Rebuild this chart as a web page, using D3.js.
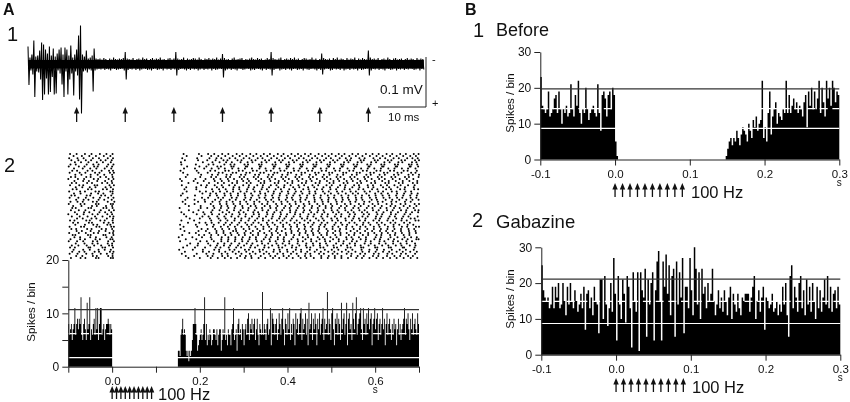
<!DOCTYPE html>
<html>
<head>
<meta charset="utf-8">
<script src="https://d3js.org/d3.v7.min.js"></script>
<style>
  html, body { margin: 0; padding: 0; background: #fff; }
  svg { display: block; filter: blur(0.35px); }
  text { font-family: "Liberation Sans", Arial, sans-serif; fill: #111; }
  .axis path, .axis line { stroke: #222; stroke-width: 1; }
  .axis text { font-size: 11.5px; fill: #111; font-family: "Liberation Sans", Arial, sans-serif; }
</style>
</head>
<body>
<svg width="850" height="402"></svg>
<script>
// extracellular trace, panel A1: envelope sampled every 0.4 ms, in microvolts
const traceTop = [36,14,20,48,16,18,28,44,40,30,22,36,18,32,16,22,30,34,20,34,30,18,38,14,20,30,58,78,20,16,28,12,14,18,32,12,
  11,12,10,13,11,9,12,10,14,11,10,12,11,13,25,12,11,10,13,9,11,12,10,14,11,12,9,11,13,10,12,11,14,10,11,9,12,13,10,12,25,12,
  10,11,14,9,12,10,11,13,12,10,14,11,9,12,11,13,10,12,11,14,10,12,21,13,10,11,9,12,14,10,11,12,13,9,11,10,12,14,11,10,13,11,
  12,9,10,13,11,25,13,11,10,12,14,9,11,12,10,13,11,14,10,12,9,11,13,12,10,11,14,10,12,9,11,22,13,11,10,12,9,13,11,14,10,12,
  11,9,13,10,12,11,14,9,12,10,13,11,10,28,14,11,12,10,13,9,11,12,10,14,11,9,12,13,10,11,12,9,11,13,10,12,11,9,13,10,12,11]
const traceBot = [-41,-12,-20,-65,-14,-16,-30,-71,-60,-28,-60,-55,-25,-60,-58,-12,-18,-40,-65,-14,-60,-30,-18,-62,-14,-22,-70,-98,-14,-12,-16,-10,-12,-54,-12,-10,
  -9,-10,-8,-11,-9,-10,-12,-8,-9,-11,-10,-9,-8,-12,-30,-11,-9,-10,-8,-11,-9,-12,-10,-8,-9,-11,-10,-12,-9,-8,-11,-10,-9,-12,-8,-10,-9,-11,-8,-10,-22,-11,
  -9,-8,-10,-12,-9,-11,-8,-10,-9,-12,-10,-8,-11,-9,-10,-8,-12,-9,-11,-10,-8,-9,-26,-12,-10,-8,-11,-9,-10,-12,-8,-9,-11,-10,-8,-9,-12,-10,-11,-8,-9,-10,
  -12,-8,-11,-9,-10,-22,-11,-9,-8,-12,-10,-9,-11,-8,-10,-12,-9,-8,-11,-10,-9,-12,-8,-10,-11,-9,-8,-10,-12,-9,-11,-20,-10,-8,-9,-12,-11,-8,-10,-9,-11,-8,
  -12,-10,-9,-11,-8,-10,-9,-12,-8,-11,-10,-9,-8,-22,-12,-9,-10,-8,-11,-9,-10,-12,-8,-9,-11,-10,-8,-12,-9,-10,-8,-11,-9,-10,-8,-9,-11,-10,-8,-12,-9,-10]
const traceBand = [-8, 9]
const traceStims = [10,20,30,40,50,60,70]

// raster, panel A2: one list of spike times (ms) per trial
const rasterTrials = [
  [-96,-81,-62,-47,-28,-13,1,163,198,219,233,251,265,284,297,315,329,346,360,378,391,409,424,440,453,471,486,501,517,530,548,561,579,594,608,626,639,657,670,688,699],
  [-88,-69,-52,-37,-19,-4,170,204,226,242,258,275,291,306,322,339,354,369,386,401,417,431,448,463,479,494,510,524,541,556,571,588,603,617,634,649,664,680,693],
  [-98,-79,-65,-44,-30,-10,2,160,194,222,238,249,268,281,300,313,332,343,363,376,394,406,426,437,456,468,488,499,519,533,545,564,576,596,611,623,642,654,673,685,697],
  [-93,-77,-60,-48,-26,-15,-1,166,196,217,236,254,263,286,295,318,327,349,358,381,389,412,421,443,451,474,483,504,514,536,543,567,574,599,606,629,637,660,668,691,700],
  [-85,-71,-54,-35,-21,-3,157,207,229,245,260,273,293,309,320,341,352,372,385,403,415,435,446,466,477,497,508,529,539,560,569,591,602,621,633,653,662,684,694],
  [-95,-83,-58,-43,-31,-9,3,158,191,220,231,256,270,279,302,310,335,341,366,373,397,404,429,435,459,466,491,497,522,528,551,559,582,590,614,621,645,652,677,683,696],
  [-99,-76,-63,-41,-33,-12,0,171,199,215,240,248,272,277,305,308,337,339,369,371,399,402,431,433,461,464,493,495,524,526,554,557,585,587,616,619,647,650,679,681,698],
  [-87,-67,-50,-36,-17,-2,164,189,210,227,243,257,274,288,303,319,336,350,368,382,398,414,428,444,458,476,489,506,520,537,552,568,583,598,613,630,644,661,675,692],
  [-91,-80,-56,-45,-24,-7,2,156,193,224,235,258,266,289,298,321,330,352,362,384,393,415,425,447,456,478,488,509,519,541,550,572,581,603,612,634,643,665,674,695],
  [-97,-74,-61,-39,-29,-5,4,162,197,218,243,252,275,283,306,314,338,346,370,377,401,408,432,440,463,471,495,502,527,534,558,565,589,597,620,628,651,660,682,692],
  [-84,-70,-49,-33,-18,0,172,203,228,241,261,271,294,304,326,335,357,367,388,400,420,432,451,465,483,496,514,527,547,558,580,590,610,622,643,653,676,686,700],
  [-94,-84,-59,-49,-27,-14,1,168,201,226,237,260,269,291,301,323,333,355,364,386,396,418,427,449,458,480,490,512,521,543,553,575,584,606,615,637,646,668,677,699],
  [-100,-78,-64,-42,-32,-8,3,155,190,213,232,247,264,278,296,309,328,340,359,372,390,403,422,434,452,467,484,498,515,529,546,560,577,592,609,622,640,656,672,687],
  [-86,-66,-53,-34,-16,-1,159,186,209,234,250,266,285,299,312,334,347,361,380,394,411,425,443,455,474,490,505,518,535,549,566,581,599,616,631,647,663,678,696],
  [-92,-82,-57,-46,-23,-11,0,174,195,221,241,255,274,285,307,316,339,347,371,379,400,411,433,442,464,473,496,505,528,537,559,568,591,600,623,631,654,663,686,696],
  [-96,-75,-66,-40,-34,-6,4,159,203,216,234,250,267,280,299,312,331,344,362,375,393,407,425,438,457,470,489,501,520,532,552,563,583,595,613,627,644,658,675,690],
  [-83,-68,-51,-38,-15,-3,169,192,214,239,253,277,290,311,324,343,358,379,392,413,427,447,461,482,497,515,531,548,564,584,596,618,632,651,668,688],
  [-90,-81,-55,-47,-21,-12,2,165,192,228,244,259,276,290,308,322,341,353,373,385,404,417,436,448,467,479,498,511,530,542,562,573,593,605,625,636,657,667,689,698],
  [-98,-73,-62,-38,-30,-4,1,170,200,214,230,246,262,276,293,307,325,337,356,369,387,401,419,431,450,463,481,494,513,525,544,556,576,588,607,618,638,649,669,682],
  [-87,-72,-48,-32,-20,1,161,206,224,237,256,270,287,302,317,338,349,368,383,402,416,434,450,464,485,499,516,533,549,561,580,600,614,629,650,666,683,697],
  [-93,-85,-58,-50,-25,-16,-2,157,189,223,239,257,271,287,303,320,334,350,365,382,398,413,428,445,460,476,492,507,523,539,555,570,586,601,617,632,648,664,680,695],
  [-97,-77,-60,-43,-28,-9,3,172,205,219,242,253,273,284,304,317,336,348,367,380,399,410,430,444,461,475,494,506,525,538,556,569,588,602,619,633,650,662,681,694],
  [-82,-65,-54,-31,-18,-1,167,188,211,235,248,268,282,301,315,330,351,363,381,396,412,429,441,462,478,493,510,526,540,557,571,592,604,624,639,655,671,685,699],
  [-95,-79,-67,-44,-35,-10,5,161,196,212,229,245,261,275,292,306,324,336,355,368,386,400,418,430,449,462,480,493,512,524,543,555,575,587,606,617,637,648,668,681],
  [-99,-72,-63,-37,-31,-3,2,167,188,225,246,261,277,292,309,324,342,354,374,387,405,419,437,450,468,481,499,513,531,544,563,574,594,607,626,638,658,669,690,700],
  [-89,-70,-46,-35,-14,0,175,202,231,249,263,281,297,316,327,348,360,377,395,408,426,439,456,473,487,502,522,535,553,567,585,599,615,635,646,665,679,694],
  [-91,-83,-54,-48,-20,-13,1,154,202,217,233,248,265,279,298,311,329,342,361,374,392,405,423,436,455,469,487,500,518,531,550,562,581,594,612,626,643,656,674,688],
  [-94,-76,-61,-41,-26,-7,4,175,197,229,245,262,278,293,310,325,343,356,375,388,406,420,438,451,470,482,501,514,532,546,564,576,595,608,627,640,659,671,691,699],
  [-85,-64,-52,-29,-16,-2,158,185,208,226,252,267,289,300,322,333,353,370,384,406,418,436,454,468,484,504,517,538,551,570,582,603,619,636,652,670,684,698],
  [-100,-80,-65,-45,-33,-11,0,164,193,211,228,244,260,274,291,305,323,335,354,367,385,399,417,429,448,461,479,492,511,523,542,554,574,586,605,616,636,647,667,680],
  [-92,-74,-56,-39,-22,-5,3,169,206,220,240,256,272,288,304,319,335,351,366,383,397,414,429,446,459,477,491,508,522,540,552,571,583,602,614,633,645,664,676,697],
  [-80,-67,-47,-36,-12,2,177,200,223,243,259,280,295,313,331,344,364,381,393,410,433,445,465,480,500,513,532,550,563,578,601,611,630,648,661,681,690],
  [-96,-86,-59,-51,-27,-17,1,158,187,226,247,263,279,294,311,326,344,357,376,389,407,421,439,452,471,483,502,515,533,547,565,577,596,609,628,641,660,672,692,699],
  [-89,-78,-53,-46,-19,-8,2,173,199,213,227,243,259,273,290,304,322,334,353,366,384,398,416,428,447,460,478,491,510,522,541,553,573,585,604,615,635,646,666,679],
  [-84,-62,-43,-34,-11,-4,155,191,216,232,255,269,286,308,318,340,355,371,390,405,422,438,457,475,486,507,525,536,558,572,589,608,622,642,655,674,687],
  [-97,-71,-64,-36,-29,-2,4,163,194,230,248,264,280,295,312,327,345,358,377,390,408,422,440,453,472,484,503,516,534,548,566,578,597,610,629,642,661,673,693,700],
  [-93,-82,-57,-47,-24,-14,0,156,204,218,235,251,267,282,300,313,331,345,363,376,395,407,426,439,457,472,489,503,520,534,551,565,582,597,613,628,644,659,676,689],
  [-81,-69,-49,-30,-15,3,165,197,214,238,254,276,283,305,321,337,359,374,387,409,424,442,455,470,492,509,519,544,559,577,593,611,625,640,659,677,692],
  [-98,-76,-60,-42,-32,-6,2,176,191,222,238,254,270,286,302,316,333,347,364,378,396,409,428,441,458,473,490,504,521,535,553,566,584,598,615,629,646,661,678,693],
  [-90,-84,-55,-49,-20,-15,3,160,198,210,226,242,258,272,289,303,321,333,352,365,383,397,415,427,446,459,477,490,509,521,540,552,572,584,603,614,634,645,665,678],
  [-86,-73,-50,-37,-13,-1,152,183,205,225,250,265,281,298,314,328,350,362,378,392,413,435,447,469,481,498,512,534,546,563,579,601,613,635,651,667,682,695],
  [-95,-73,-62,-38,-28,-4,1,168,192,227,249,265,281,296,313,328,346,359,378,391,409,423,441,454,473,485,504,517,535,549,567,579,598,611,630,643,662,674,694,699],
  [-99,-80,-66,-44,-34,-9,4,155,201,216,232,249,264,280,297,310,330,341,360,373,392,404,424,435,454,466,486,497,517,528,547,558,578,590,610,621,641,652,671,684],
  [-83,-63,-45,-33,-10,0,178,196,219,241,256,272,290,307,320,342,356,375,389,404,423,443,458,474,488,511,527,542,554,576,590,609,624,641,658,672,691],
  [-92,-77,-58,-41,-25,-7,0,171,195,224,239,255,269,287,301,317,332,348,365,379,395,411,427,442,459,474,491,505,522,536,554,567,585,599,616,630,647,660,679,692],
  [-96,-85,-54,-50,-22,-16,2,162,189,212,236,247,266,283,294,315,326,347,357,380,388,410,420,444,452,475,482,506,513,537,544,568,573,600,605,631,636,663,666,690],
  [-88,-66,-51,-31,-17,-3,153,184,207,233,244,268,279,303,312,336,344,369,382,399,419,431,451,467,485,501,516,533,548,569,587,604,620,638,656,670,688],
  [-91,-75,-63,-40,-30,-5,3,166,207,221,244,258,275,289,306,321,337,352,368,383,400,413,431,445,462,476,493,507,524,539,555,571,586,601,618,632,649,663,680,695],
  [-97,-79,-59,-45,-26,-12,1,159,193,215,231,250,263,282,295,314,327,346,358,377,390,408,421,441,452,472,483,503,514,535,546,566,577,597,608,628,639,659,670,691],
  [-82,-68,-44,-35,-9,1,168,187,218,229,251,264,292,305,317,339,361,372,391,403,425,440,453,477,494,508,523,545,560,574,595,607,627,644,657,675,686],
  [-94,-72,-61,-37,-31,-3,2,174,200,225,241,257,271,285,303,318,334,349,367,381,398,412,430,443,460,477,492,508,523,538,557,570,587,603,618,634,649,665,681,696]
]

// histogram A2, 2 ms bins
const histAPre = [8,6,7,8,5,7,8,11,6,8,9,7,9,8,13,6,5,8,9,7,5,12,7,8,13,5,7,6,8,9,6,11,7,11,5,8,11,11,6,7,8,5,7,8,8,9,8,6,8,7]
const histAPost = [3,3,2,6,7,9,6,7,6,3, 2,3,1,3,2,3,5,8,8,11, 8,6,3,4,5,6,7,5,6,8, 13,5,8,4,6,5,7,6,4,5,
  7,7,6,5,7,4,6,7,7,3, 5,7,6,13,5,6,4,7,6,6, 4,7,8,11,5,6,7,3,8,9, 6,7,5,8,7,4,7,8,6,9,
  10,5,8,7,9,6,8,9,5,7, 9,6,4,8,7,6,14,6,8,7, 5,8,9,6,7,11,4,10,9,8, 6,8,9,5,7,10,8,6,9,11,
  7,4,9,8,6,10,7,11,5,8, 6,9,8,4,10,7,9,6,8,10, 11,5,9,7,8,10,6,9,4,12, 7,8,10,5,9,7,10,8,4,9,
  7,10,6,8,9,11,5,9,7,8, 14,6,9,8,5,10,11,7,4,9, 8,10,6,9,8,5,12,7,9,10, 6,8,12,4,9,10,7,8,5,12,
  9,7,10,13,6,8,9,10,11,7, 5,11,8,9,6,10,8,11,7,9, 10,4,8,9,11,7,9,10,5,8, 9,6,8,11,7,9,4,8,10,6,
  8,9,7,5,8,6,9,7,8,4, 7,9,6,8,5,7,8,9,11,6, 9,8,10,7,5,9,7,10,6,8, 9,7,6,10,8]

// histogram B1 "Before", 2 ms bins
const histBeforePre = [23,15,14,13,14,19,12,13,14,17,18,13,19,14,10,14,13,15,12,13,21,14,12,18,15,22,13,10,14,13,20,14,11,13,14,15,13,12,21,13,8,18,19,17,12,18,19,14,20,18,5,1]
const histBeforePost = [1,3,5,6,4,6,5,8,6,4, 7,9,8,7,5,10,8,6,11,9, 12,8,10,11,22,6,9,5,13,19, 7,12,14,16,10,13,12,11,14,13,
  22,13,18,13,15,17,14,16,13,15, 14,12,16,18,9,19,15,20,14,19, 14,17,22,13,20,16,12,22,17,20, 15,22,20,16,19,18]

// histogram B2 "Gabazine", 2 ms bins
const histGabazine = [25,18,16,15,16,13,14,19,13,19, 16,20,13,14,20,15,11,19,14,20, 15,13,18,15,12,14,17,13,19,7, 17,18,13,16,11,19,15,14,6,21,
  21,10,22,14,8,13,20,12,27,17, 4,22,14,10,21,17,9,22,19,13, 2,23,15,12,23,1,23,18,16,24, 5,21,14,20,23,4,18,26,29,15,
  4,26,19,28,17,25,11,22,24,5, 26,14,23,16,27,6,19,19,13,27, 18,11,30,24,14,23,10,24,17,19, 13,20,15,17,24,15,11,14,18,13,
  16,12,18,15,11,16,19,10,17,14, 12,17,13,11,16,15,17,17,17,12, 16,19,22,10,15,18,12,16,19,7, 16,15,13,14,17,12,13,15,11,14,
  12,19,14,20,11,5,22,25,13,19, 16,12,20,22,13,18,11,21,14,19, 12,20,15,10,19,13,18,12,16,21, 14,22,13,19,12,17,18,13,19,14]

const stimTimes = [0,0.01,0.02,0.03,0.04,0.05,0.06,0.07,0.08,0.09]
const binWidth = 0.002

const svg = d3.select("svg")

function label(x, y, str, size, weight) {
  svg.append("text").attr("x", x).attr("y", y)
    .attr("font-size", size).attr("font-weight", weight || "normal").text(str)
}

// little upward arrow with a filled head
function arrow(x, y0, y1) {
  svg.append("line").attr("x1", x).attr("x2", x).attr("y1", y0).attr("y2", y1 + 4)
    .attr("stroke", "#111").attr("stroke-width", 1.3)
  svg.append("path").attr("d", d3.line()([[x - 2.7, y1 + 6.5], [x, y1], [x + 2.7, y1 + 6.5]]) + "Z").attr("fill", "#111")
}

function psth(cfg) {
  const x = d3.scaleLinear().domain(cfg.xDomain).range(cfg.xRange)
  const y = d3.scaleLinear().domain([0, cfg.yMax]).range(cfg.yRange)
  const g = svg.append("g")

  // one filled step path per run of bins, so neighbouring bins leave no seams
  const bars = d3.area().curve(d3.curveStepAfter)
    .x(d => x(d.t)).y0(y(0)).y1(d => y(d.v))
  cfg.segments.forEach(seg => {
    const pts = seg.values.map((v, i) => ({t: seg.start + i * binWidth, v: v}))
    pts.push({t: seg.start + seg.values.length * binWidth, v: seg.values[seg.values.length - 1]})
    g.append("path").attr("d", bars(pts)).attr("fill", "#000")
  })

  // mean and +/- 2 SD lines
  g.append("line").attr("x1", x.range()[0]).attr("x2", x.range()[1])
    .attr("y1", y(cfg.upper)).attr("y2", y(cfg.upper))
    .attr("stroke", "#333").attr("stroke-width", 1.2)
  g.append("line").attr("x1", x.range()[0]).attr("x2", x.range()[1])
    .attr("y1", y(cfg.lower)).attr("y2", y(cfg.lower))
    .attr("stroke", "#fff").attr("stroke-width", 1.1)
  g.append("line").attr("x1", x.range()[0]).attr("x2", x.range()[1])
    .attr("y1", y(cfg.mean)).attr("y2", y(cfg.mean))
    .attr("stroke", "#fff").attr("stroke-width", 1.1)
    .attr("stroke-dasharray", "8,4.7")
    .style("mix-blend-mode", "difference")

  const xAxis = d3.axisBottom(x).tickValues(cfg.xTicks).tickSize(6).tickSizeOuter(0)
    .tickFormat(d => cfg.xLabels.includes(d) ? d.toFixed(1) : "")
  g.append("g").attr("class", "axis").attr("transform", `translate(0,${y(0)})`).call(xAxis)
    .selectAll("text").attr("dy", "0.85em")

  const yAxis = d3.axisLeft(y).tickValues(cfg.yTicks).tickSize(6).tickSizeOuter(0).tickPadding(3)
    .tickFormat(d => cfg.yLabels.includes(d) ? d : "")
  g.append("g").attr("class", "axis").attr("transform", `translate(${x.range()[0]},0)`).call(yAxis)
    .selectAll("text").style("font-size", "12px")

  g.append("text").attr("transform", `translate(${cfg.titleX},${cfg.titleY}) rotate(-90)`)
    .attr("text-anchor", "middle").attr("font-size", 11.5).text("Spikes / bin")
  g.append("text").attr("x", x(cfg.sAt)).attr("y", cfg.sY).attr("text-anchor", "middle").attr("font-size", 10).text("s")

  stimTimes.forEach(t => arrow(x(t), cfg.arrowY[0], cfg.arrowY[1]))
  label(cfg.hzX, cfg.arrowY[0] + 0.5, "100 Hz", 16.5)
  return x
}

// ---- A1 trace
const tx = d3.scaleLinear().domain([0, 80]).range([28, 417])
const ty = d3.scaleLinear().domain([-100, 100]).range([114.5, 14.5])
const tracePts = []
traceTop.forEach((v, i) => {
  tracePts.push([i * 0.4, v])
  tracePts.push([i * 0.4 + 0.2, traceBot[i]])
})
svg.append("path")
  .attr("d", d3.area().x(d => tx(d)).y0(ty(traceBand[0])).y1(ty(traceBand[1]))([0, (traceTop.length - 0.5) * 0.4]))
  .attr("fill", "#000")
svg.append("path")
  .attr("d", d3.line().x(d => tx(d[0])).y(d => ty(d[1]))(tracePts))
  .attr("fill", "none").attr("stroke", "#000").attr("stroke-width", 1.05)
traceStims.forEach(t => arrow(tx(t), 122, 107))

// scale bars
svg.append("path").attr("d", "M378,107H426V57").attr("fill", "none").attr("stroke", "#222").attr("stroke-width", 1)
label(380, 94, "0.1 mV", 13.5)
label(388, 121, "10 ms", 11.5)
label(432, 63, "-", 11)
label(432, 107, "+", 11)

// ---- A2 raster + histogram
const ax = psth({
  xDomain: [-0.1, 0.7], xRange: [68.3, 419], yMax: 20, yRange: [366.7, 260],
  segments: [{start: -0.1, values: histAPre}, {start: 0.15, values: histAPost}],
  upper: 10.7, mean: 6.2, lower: 1.7,
  xTicks: [-0.1,0,0.1,0.2,0.3,0.4,0.5,0.6,0.7], xLabels: [0,0.2,0.4,0.6],
  yTicks: [0,5,10,15,20], yLabels: [0,10,20],
  titleX: 35, titleY: 312, sAt: 0.6, sY: 393,
  arrowY: [399, 386], hzX: 158
})
const rowY = d3.scalePoint().domain(d3.range(rasterTrials.length)).range([154, 258])
svg.append("g").selectAll("g").data(rasterTrials).join("g")
  .attr("transform", (d, i) => `translate(0,${rowY(i)})`)
  .selectAll("circle").data(d => d).join("circle")
  .attr("cx", d => ax(d / 1000)).attr("r", 1).attr("fill", "#000")

// ---- B1
psth({
  xDomain: [-0.1, 0.3], xRange: [540.3, 839.3], yMax: 30, yRange: [159.5, 52],
  segments: [{start: -0.1, values: histBeforePre}, {start: 0.148, values: histBeforePost}],
  upper: 19.7, mean: 14.2, lower: 8.7,
  xTicks: [-0.1,0,0.1,0.2,0.3], xLabels: [-0.1,0,0.1,0.2,0.3],
  yTicks: [0,10,20,30], yLabels: [0,10,20,30],
  titleX: 514, titleY: 103, sAt: 0.3, sY: 186,
  arrowY: [197, 183], hzX: 691
})

// ---- B2
psth({
  xDomain: [-0.1, 0.3], xRange: [541.3, 840.3], yMax: 30, yRange: [354.7, 247.3],
  segments: [{start: -0.1, values: histGabazine}],
  upper: 21.1, mean: 14.9, lower: 8.7,
  xTicks: [-0.1,0,0.1,0.2,0.3], xLabels: [-0.1,0,0.1,0.2,0.3],
  yTicks: [0,10,20,30], yLabels: [0,10,20,30],
  titleX: 514, titleY: 299, sAt: 0.3, sY: 381,
  arrowY: [392, 378], hzX: 692
})

// panel labels
label(3, 15, "A", 16, "bold")
label(7, 41, "1", 20)
label(4, 172, "2", 20)
label(465, 15, "B", 16, "bold")
label(473, 37, "1", 20)
label(496, 36, "Before", 18)
label(472, 227, "2", 20)
label(496, 228, "Gabazine", 18.5)
</script>
</body>
</html>
